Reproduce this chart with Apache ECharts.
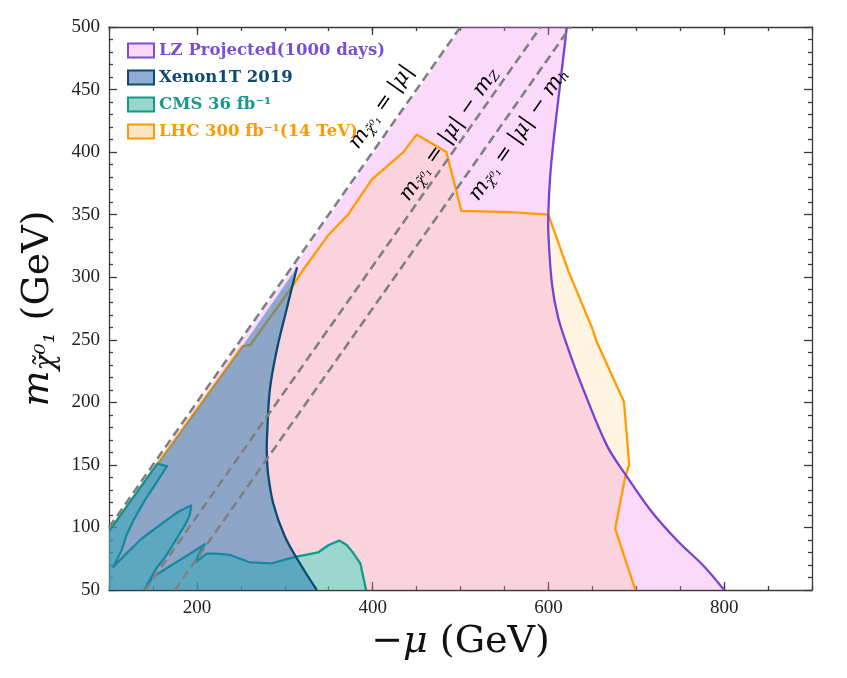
<!DOCTYPE html>
<html>
<head>
<meta charset="utf-8">
<script src="https://cdn.jsdelivr.net/npm/echarts@6/dist/echarts.min.js"></script>
<style>html,body{margin:0;background:#fff}#myChart{width:847px;height:678px}</style>
</head>
<body>
<div id="myChart"></div>
<script>
// masses for the kinematic lines (GeV)
const mZ = 91.19;
const mh = 125;

const xTicks = [200, 400, 600, 800];

// points are [-mu, m_chi] in GeV
const lzCurve = [[621,500],[613,452],[606,410],[602,380],[600,352],[600,335],[604,295],[611,268],[623,242],[640,210],[667,165],[689,141],[716,114],[746,90],[777,69],[800,50]];
const lzDiag = [[100,50],[100,98],[502,500]];

const xenonCurve = [[314,308],[302,274],[291,242],[283,210],[280,175],[279.5,162],[281,143],[287,119],[300,93],[317.5,71],[336.5,50]];
const xenonDiag = [[100,50],[100,97],[252,245]];

const lhcEdge = [[100,97],[252,245],[261,246],[310,294],[321,306],[350,334],[372,350],[399,378],[435,400],[450,414],[484,400],[501,353],[557,352],[600,350],[623,304.5],[650,259],[655,248.5],[686,200.5],[692,150],[687.5,140.6],[676,99],[699,50]];

const cmsEdgeA = [[100,97],[155,151],[166,149],[156,138],[141,122],[128,106],[120,94],[114.5,82],[105,68.5],[118,78],[137,91],[160,103],[179,112.5],[190,116.5],[193.5,117.5],[192,110],[186.5,102],[177,91],[165.5,78],[152.5,66],[140,50]];
const cmsEdgeB = [[141,50],[149,60],[171.5,70],[190,78],[209,86.5],[203.5,80.5],[198,72],[211,79],[221,79],[238,78],[260.5,72],[285,71.3],[312,76.5],[338,80],[350,86],[362,89.5],[370.5,86],[378,79.5],[386,71.3],[392.5,50]];

const lineOffsets = [0, mZ, mh];
const noteTexts = [
  '{i|m}{s|χ̃⁰₁}{n| = |}{i|μ}{n||}',
  '{i|m}{s|χ̃⁰₁}{n| = |}{i|μ}{n|| − }{i|m}{s|Z}',
  '{i|m}{s|χ̃⁰₁}{n| = |}{i|μ}{n|| − }{i|m}{s|h}'
];
const noteAt = [[410,436],[487,414],[566,414]];

const serif = 'Liberation Serif';
const mathFont = 'DejaVu Serif';
const mathRich = function (size, sub) {
  return {
    i: { fontFamily: mathFont, fontStyle: 'italic', fontSize: size, color: '#111' },
    n: { fontFamily: mathFont, fontSize: size, color: '#111' },
    a: { fontFamily: mathFont, fontSize: size, color: '#111' },
    s: { fontFamily: mathFont, fontStyle: 'italic', fontSize: Math.round(size * sub), color: '#111', padding: [Math.round(size * 0.45), 0, 0, 0] }
  };
};

function area(name, fillPts, edgePts, fill, stroke, z, smooth) {
  return {
    type: 'custom', name: name, z: z, clip: true, silent: true,
    data: fillPts,
    renderItem: function (params, api) {
      if (params.dataIndex !== 0) return;
      const kids = [];
      if (fill) kids.push({ type: 'polygon', shape: { points: fillPts.map(p => api.coord(p)) }, style: { fill: fill } });
      if (edgePts) kids.push({ type: 'polyline', shape: { points: edgePts.map(p => api.coord(p)), smooth: smooth || 0 }, style: { fill: null, stroke: stroke, lineWidth: 2.3, lineJoin: 'round' } });
      return { type: 'group', children: kids };
    }
  };
}

const names = ['LZ Projected(1000 days)', 'Xenon1T 2019', 'CMS 36 fb⁻¹', 'LHC 300 fb⁻¹(14 TeV)'];

const dashed = lineOffsets.map(function (d) {
  const lo = Math.max(100, 50 + d);
  return {
    type: 'line', z: 8, silent: true, showSymbol: false,
    data: [[lo, lo - d], [500 + d, 500]],
    lineStyle: { color: '#808080', width: 2.6, type: [9, 5] }
  };
});

const frame = { color: '#3a3a3a', width: 1.3 };
function xAx(pos, major, labels) {
  return {
    type: 'value', position: pos, min: 100, max: 900,
    interval: major ? undefined : 50,
    axisLine: { show: !major, onZero: false, lineStyle: frame },
    axisTick: major ? { inside: true, length: 8, customValues: xTicks, lineStyle: frame } : { inside: true, length: 4, lineStyle: frame },
    axisLabel: labels ? { customValues: xTicks, margin: 9, fontSize: 19, fontFamily: serif, color: '#222' } : { show: false },
    splitLine: { show: false }
  };
}
function yAx(pos, labels) {
  return {
    type: 'value', position: pos, min: 50, max: 500, interval: 50,
    axisLine: { show: true, onZero: false, lineStyle: frame },
    axisTick: { inside: true, length: 8, lineStyle: frame },
    minorTick: { show: true, splitNumber: 5, length: 4, lineStyle: frame },
    axisLabel: labels ? { margin: 9, fontSize: 19, fontFamily: serif, color: '#222' } : { show: false },
    splitLine: { show: false }
  };
}

const xMain = xAx('bottom', false, true);
xMain.name = '{a|−}{i|μ}{a| (GeV)}';
xMain.nameLocation = 'middle';
xMain.nameGap = 29;
xMain.nameTextStyle = { rich: mathRich(38, 0.6) };
const yMain = yAx('left', true);
yMain.name = '{i|m}{s|χ̃⁰₁}{a| (GeV)}';
yMain.nameLocation = 'middle';
yMain.nameGap = 44;
yMain.nameTextStyle = { rich: mathRich(38, 0.72) };

const option = {
  animation: false,
  grid: { left: 109, right: 35, top: 27, bottom: 88 },
  xAxis: [xMain, xAx('bottom', true, false), xAx('top', false, false), xAx('top', true, false)],
  yAxis: [yMain, yAx('right', false)],
  legend: {
    left: 122, top: 37, orient: 'vertical', itemWidth: 26, itemHeight: 14, itemGap: 10,
    selectedMode: false, icon: 'rect',
    textStyle: { fontFamily: 'DejaVu Serif', fontWeight: 'bold', fontSize: 16.5 },
    data: [
      { name: names[0], itemStyle: { color: '#fbd8f8', borderColor: '#7a4fd6', borderWidth: 2 }, textStyle: { color: '#7a4fd6' } },
      { name: names[1], itemStyle: { color: '#8fadd4', borderColor: '#0c4a74', borderWidth: 2 }, textStyle: { color: '#0c4a74' } },
      { name: names[2], itemStyle: { color: '#97d6cc', borderColor: '#159a8c', borderWidth: 2 }, textStyle: { color: '#159a8c' } },
      { name: names[3], itemStyle: { color: '#ffe6c2', borderColor: '#ff9900', borderWidth: 2 }, textStyle: { color: '#ff9900' } }
    ]
  },
  series: [
    area(names[0], lzDiag.concat(lzCurve), null, 'rgba(238,130,238,0.3)', null, 1),
    area(names[3], [[100,50]].concat(lhcEdge), lhcEdge, 'rgba(255,165,0,0.12)', '#ff9d00', 2),
    area(names[2], [[100,50]].concat(cmsEdgeA), cmsEdgeA, 'rgba(40,220,190,0.45)', '#119a8e', 3),
    area(names[2], cmsEdgeB, cmsEdgeB, 'rgba(40,220,190,0.45)', '#119a8e', 3),
    area(names[1], xenonDiag.concat(xenonCurve), xenonCurve, 'rgba(31,119,180,0.5)', '#0b4a72', 4, 0.35),
    area('lzEdge', lzCurve, lzCurve, null, '#7444d2', 5, 0.35)
  ].concat(dashed).concat([{
    type: 'custom', z: 9, silent: true, clip: false,
    data: noteAt,
    renderItem: function (params, api) {
      const p = api.coord([api.value(0), api.value(1)]);
      const a = api.coord([200, 200]), b = api.coord([400, 400]);
      return {
        type: 'text', x: p[0], y: p[1],
        rotation: Math.atan2(a[1] - b[1], b[0] - a[0]),
        style: { text: noteTexts[params.dataIndex], rich: mathRich(21, 0.62), align: 'center', verticalAlign: 'middle' }
      };
    }
  }])
};

const chart = echarts.init(document.getElementById('myChart'));
chart.setOption(option);
</script>
</body>
</html>
